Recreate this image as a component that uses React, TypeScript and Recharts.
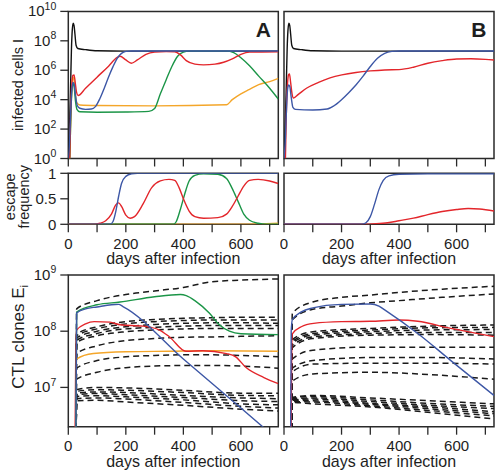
import React from 'react';
import { LineChart, Line, XAxis, YAxis, ReferenceArea } from 'recharts';

type Pt = [number, number];

// ---------------- shared ----------------
const DAY_TICKS = [0, 100, 200, 300, 400, 500, 600, 700];
const DAY_LABELS = [0, 200, 400, 600];
const INFECTED_TICKS = [1, 1e2, 1e4, 1e6, 1e8, 1e10];
const ESCAPE_TICKS = [0, 0.5, 1];
const CTL_TICKS = [1e7, 1e8, 1e9];

// ---------------- infected cells I ----------------
const infectedBlack: Pt[] = [[0, 1], [4, 1e2], [8, 1e5], [11, 3e7], [14, 6e8], [17, 1.6e9], [20, 1.1e9], [23, 3e8], [27, 5e7], [33, 3e7], [60, 2.5e7], [100, 2.1e7], [200, 2e7], [730, 2e7]];
const infectedA_orange: Pt[] = [[5, 1], [9, 1e3], [13, 1e5], [16, 3.5e5], [20, 2e5], [25, 2e4], [30, 6e3], [40, 4.3e3], [100, 4e3], [300, 3.8e3], [550, 4.5e3], [570, 1e4], [600, 2.5e4], [630, 5e4], [662, 1.05e5], [700, 1.7e5], [730, 2.8e5]];
const infectedA_green: Pt[] = [[5, 1], [9, 1e3], [13, 6e4], [16, 1.2e5], [20, 8e4], [25, 8e3], [30, 2.2e3], [40, 1.5e3], [100, 1.4e3], [200, 1.45e3], [280, 1.6e3], [300, 2.5e3], [320, 2.5e4], [340, 2.2e5], [360, 1.8e6], [380, 9e6], [400, 1.7e7], [420, 2e7], [550, 2e7], [575, 1.6e7], [600, 7e6], [630, 2e6], [662, 4e5], [700, 6e4], [730, 1.1e4]];
const infectedA_red: Pt[] = [[5, 1], [8, 1e3], [12, 1e5], [16, 4.5e5], [20, 4.8e5], [24, 1.5e5], [29, 3e4], [34, 1.9e4], [60, 6e4], [100, 3.4e5], [140, 1.9e6], [170, 7.5e6], [180, 9e6], [200, 5e6], [219, 3e6], [240, 5e6], [270, 1.2e7], [300, 1.7e7], [340, 1.85e7], [370, 1.8e7], [390, 1.1e7], [410, 4.5e6], [440, 2.6e6], [470, 2.3e6], [510, 2.6e6], [540, 3.5e6], [570, 6e6], [600, 1.2e7], [630, 1.7e7], [730, 1.8e7]];
const infectedA_blue: Pt[] = [[0, 1], [4, 10], [8, 1e3], [12, 4e4], [16, 1.5e5], [20, 1.2e5], [25, 2e4], [31, 4e3], [40, 2.6e3], [60, 2.2e3], [80, 2.3e3], [95, 3.5e3], [110, 1.2e4], [125, 6e4], [140, 3.5e5], [155, 1.7e6], [170, 6.5e6], [185, 1.4e7], [200, 1.9e7], [220, 2.05e7], [730, 2.05e7]];
const infectedB_red: Pt[] = [[5, 1], [8, 1e3], [12, 1e5], [16, 5e5], [19, 5.6e5], [23, 1.5e5], [28, 2.5e4], [33, 1.3e4], [50, 2.3e4], [78, 6e4], [120, 1.5e5], [160, 3e5], [201, 4.8e5], [250, 7e5], [300, 9e5], [350, 1.05e6], [400, 1.1e6], [450, 1.6e6], [500, 3e6], [550, 4.5e6], [600, 5.8e6], [650, 6e6], [700, 5.5e6], [730, 5e6]];
const infectedB_blue: Pt[] = [[0, 1], [4, 10], [8, 1e3], [12, 4e4], [16, 1e5], [20, 8e4], [25, 1.5e4], [31, 3e3], [40, 2.2e3], [100, 2e3], [150, 2.3e3], [175, 4e3], [200, 1e4], [225, 3e4], [250, 1e5], [275, 4e5], [300, 1.8e6], [325, 6.5e6], [350, 1.4e7], [375, 1.9e7], [400, 2.05e7], [730, 2.05e7]];

// ---------------- escape frequency ----------------
const escapeA_red: Pt[] = [[0, 0], [90, 0], [110, 0.02], [130, 0.07], [150, 0.2], [165, 0.38], [175, 0.42], [185, 0.35], [200, 0.18], [215, 0.12], [230, 0.15], [260, 0.4], [290, 0.72], [320, 0.85], [350, 0.88], [370, 0.86], [385, 0.72], [400, 0.5], [420, 0.26], [440, 0.15], [470, 0.12], [520, 0.13], [550, 0.2], [570, 0.35], [590, 0.55], [610, 0.75], [630, 0.86], [660, 0.88], [700, 0.85], [730, 0.8]];
const escapeA_blue: Pt[] = [[0, 0], [145, 0], [155, 0.05], [165, 0.25], [175, 0.55], [185, 0.8], [200, 0.94], [220, 0.99], [240, 1], [730, 1]];
const escapeA_green: Pt[] = [[0, 0], [365, 0], [375, 0.05], [390, 0.3], [405, 0.6], [420, 0.85], [440, 0.96], [470, 0.99], [520, 0.98], [550, 0.9], [570, 0.7], [590, 0.45], [610, 0.2], [630, 0.08], [660, 0.02], [690, 0], [730, 0]];
const escapeA_orange: Pt[] = [[0, 0], [600, 0], [730, 0.02]];
const escapeB_red: Pt[] = [[0, 0], [280, 0], [320, 0.01], [360, 0.03], [400, 0.07], [450, 0.12], [500, 0.19], [550, 0.25], [600, 0.29], [640, 0.31], [680, 0.3], [730, 0.26]];
const escapeB_blue: Pt[] = [[0, 0], [270, 0], [285, 0.03], [300, 0.15], [315, 0.4], [330, 0.68], [345, 0.86], [365, 0.95], [400, 0.98], [500, 0.99], [730, 0.99]];

// ---------------- CTL clones E_i ----------------
const ctlA_green: Pt[] = [[25, 1e5], [29, 2.2e8], [100, 2.95e8], [180, 3.3e8], [300, 4.1e8], [390, 4.5e8], [410, 4.3e8], [440, 3.5e8], [490, 2.1e8], [525, 1.3e8], [560, 1.0e8], [600, 9e7], [730, 8.7e7]];
const ctlA_blue: Pt[] = [[25, 1e5], [29, 2.1e8], [60, 2.5e8], [100, 2.7e8], [150, 2.95e8], [175, 3e8], [190, 2.75e8], [400, 3.2e7], [600, 4.3e6], [730, 1.15e6]];
const ctlA_red: Pt[] = [[22, 1e5], [26, 5e7], [29, 1.05e8], [60, 1.35e8], [90, 1.48e8], [145, 1.45e8], [180, 1.3e8], [260, 1.23e8], [317, 1.05e8], [352, 7.9e7], [409, 4.4e7], [467, 4.5e7], [550, 4e7], [582, 3.5e7], [616, 2.3e7], [680, 1.5e7], [730, 1.17e7]];
const ctlA_orange: Pt[] = [[23, 1e5], [27, 2e7], [29, 3.2e7], [87, 4e7], [200, 4.3e7], [350, 4.4e7], [500, 4.5e7], [730, 4.4e7]];

const cloneDaysA = [26, 29, 100, 200, 300, 400, 500, 600, 730];
const clonesA_upper: number[][] = [
  [1e5, 2.5e8, 3.5e8, 4.5e8, 5.2e8, 6.0e8, 7.6e8, 8.1e8, 8.5e8],
  [1e5, 8.9e7, 1.2e8, 1.48e8, 1.62e8, 1.7e8, 1.74e8, 1.78e8, 1.78e8],
  [1e5, 8.3e7, 1.1e8, 1.35e8, 1.48e8, 1.55e8, 1.58e8, 1.58e8, 1.58e8],
  [1e5, 7.6e7, 1.0e8, 1.2e8, 1.32e8, 1.38e8, 1.41e8, 1.41e8, 1.38e8],
  [1e5, 6.9e7, 9.1e7, 1.1e8, 1.17e8, 1.23e8, 1.26e8, 1.26e8, 1.26e8],
  [1e5, 6.3e7, 8.3e7, 9.8e7, 1.05e8, 1.1e8, 1.12e8, 1.12e8, 1.12e8],
  [1e5, 4.0e7, 5.5e7, 6.8e7, 7.4e7, 7.8e7, 7.9e7, 8.1e7, 8.3e7],
  [1e5, 2.2e7, 3.0e7, 3.5e7, 3.7e7, 3.8e7, 3.8e7, 3.7e7, 3.5e7],
  [1e5, 1.4e7, 1.86e7, 2.24e7, 2.4e7, 2.45e7, 2.45e7, 2.4e7, 2.2e7],
];
const cloneDaysA_low = [26, 29, 100, 200, 400, 600, 730];
const clonesA_lower: number[][] = [
  [1e5, 9.1e6, 1.0e7, 9.8e6, 8.9e6, 7.9e6, 7.9e6],
  [1e5, 8.5e6, 9.1e6, 8.9e6, 8.1e6, 7.2e6, 7.1e6],
  [1e5, 7.9e6, 8.3e6, 8.1e6, 7.2e6, 6.5e6, 6.3e6],
  [1e5, 7.4e6, 7.8e6, 7.4e6, 6.6e6, 5.8e6, 5.6e6],
  [1e5, 6.9e6, 7.1e6, 6.8e6, 6.0e6, 5.1e6, 4.9e6],
  [1e5, 6.3e6, 6.5e6, 6.2e6, 5.4e6, 4.6e6, 4.3e6],
  [1e5, 5.8e6, 5.9e6, 5.5e6, 4.8e6, 4.1e6, 3.8e6],
];

const ctlB_blue: Pt[] = [[22, 1e5], [25, 1e8], [29, 1.6e8], [60, 2.2e8], [100, 2.6e8], [200, 3e8], [300, 3.05e8], [330, 2.8e8], [350, 2.4e8], [465, 9.1e7], [580, 3e7], [730, 7.2e6]];
const ctlB_red: Pt[] = [[23, 1e5], [27, 6e7], [29, 9e7], [60, 1.2e8], [103, 1.38e8], [200, 1.48e8], [300, 1.5e8], [400, 1.58e8], [465, 1.5e8], [580, 1.12e8], [730, 8e7]];

const cloneDaysB = [24, 29, 100, 200, 300, 400, 550, 730];
const clonesB_top: number[][] = [
  [1e5, 2.1e8, 3.3e8, 4.0e8, 4.4e8, 4.9e8, 5.6e8, 6.3e8],
  [1e5, 1.6e8, 2.45e8, 2.8e8, 3.2e8, 3.5e8, 4.0e8, 4.6e8],
];
const cloneDaysB_mid = [24, 29, 100, 300, 500, 730];
const clonesB_mid: number[][] = [
  [1e5, 7.1e7, 9.8e7, 1.12e8, 1.23e8, 1.29e8],
  [1e5, 6.6e7, 9.1e7, 1.05e8, 1.15e8, 1.17e8],
  [1e5, 6.2e7, 8.5e7, 9.8e7, 1.05e8, 1.07e8],
  [1e5, 5.6e7, 7.9e7, 9.1e7, 9.5e7, 9.5e7],
  [1e5, 5.1e7, 7.4e7, 8.5e7, 8.7e7, 8.5e7],
  [1e5, 3.2e7, 4.6e7, 5.2e7, 5.2e7, 5.2e7],
  [1e5, 2.2e7, 3.0e7, 3.4e7, 3.4e7, 3.2e7],
  [1e5, 1.9e7, 2.6e7, 2.7e7, 2.7e7, 2.6e7],
  [1e5, 1.3e7, 1.74e7, 1.86e7, 1.7e7, 1.4e7],
  [1e5, 6.6e6, 7.2e6, 6.5e6, 5.8e6, 5.1e6],
  [1e5, 6.5e6, 6.9e6, 6.0e6, 5.2e6, 4.6e6],
  [1e5, 6.3e6, 6.5e6, 5.6e6, 4.8e6, 4.2e6],
  [1e5, 6.0e6, 6.2e6, 5.2e6, 4.5e6, 3.7e6],
  [1e5, 5.9e6, 5.8e6, 5.0e6, 4.2e6, 3.4e6],
  [1e5, 5.6e6, 5.5e6, 4.7e6, 3.9e6, 3.1e6],
  [1e5, 5.4e6, 5.1e6, 4.5e6, 3.6e6, 2.75e6],
];

// ---------------- styling ----------------
const FONT = '"Liberation Sans", Arial, Helvetica, sans-serif';
const AX = '#2a2a2a';
const TXT = '#1e1e1e';
const COL = { black: '#111111', red: '#e3262b', blue: '#3d57a6', green: '#1b9547', orange: '#f4a62a', dash: '#1a1a1a' };

type Series = { pts: Pt[]; color: string; dashed?: boolean };

const zipPts = (days: number[], vals: number[]): Pt[] => days.map((d, i) => [d, vals[i]] as Pt);
const dashed = (days: number[], sets: number[][]): Series[] => sets.map((v) => ({ pts: zipPts(days, v), color: COL.dash, dashed: true }));

const PowTick = (props: any) => {
  const { x, y, payload } = props;
  const e = Math.round(Math.log10(payload.value));
  return (
    <text x={x} y={y} dy={5} textAnchor="end" fontSize={15} fill={TXT} fontFamily={FONT}>
      10<tspan dy={-6.5} fontSize={10.5}>{e}</tspan>
    </text>
  );
};

const xTitle = (props: any) => {
  const vb = props.viewBox;
  return (
    <text x={vb.x + vb.width / 2} y={vb.y + 40} textAnchor="middle" fontSize={16} fill={TXT} fontFamily={FONT}>
      days after infection
    </text>
  );
};

const vText = (x: number, cy: number, size: number, content: React.ReactNode, key?: string) => (
  <text key={key} transform={`translate(${x},${cy}) rotate(-90)`} textAnchor="middle" fontSize={size} fill={TXT} fontFamily={FONT}>
    {content}
  </text>
);

const infectedTitle = (props: any) => {
  const vb = props.viewBox;
  return vText(vb.x + 23, vb.y + vb.height / 2, 14.5, 'infected cells I');
};
const escapeTitle = (props: any) => {
  const vb = props.viewBox;
  const cy = vb.y + vb.height / 2 - 2;
  return (
    <g>
      {vText(vb.x + 15, cy, 14.5, 'escape', 'a')}
      {vText(vb.x + 29, cy, 14.5, 'frequency', 'b')}
    </g>
  );
};
const ctlTitle = (props: any) => {
  const vb = props.viewBox;
  return vText(vb.x + 24, vb.y + vb.height / 2 - 14, 17, (
    <>
      CTL clones E<tspan dy={4} fontSize={11}>i</tspan>
    </>
  ));
};

const letter = (ch: string) => (props: any) => {
  const vb = props.viewBox;
  return (
    <text x={vb.x + vb.width - 7.5} y={vb.y + 26} textAnchor="end" fontSize={21} fontWeight="bold" fill={TXT} fontFamily={FONT}>
      {ch}
    </text>
  );
};

type PanelProps = {
  left: number; top: number; width: number; height: number;
  margin: { top: number; right: number; bottom: number; left: number };
  xAxisH: number; yAxisW: number; showY: boolean; xLabels: boolean; xTitle: boolean;
  log: boolean; yDomain: [number, number]; yTicks: number[];
  yTitle?: (p: any) => React.ReactElement; letter?: string; series: Series[];
};

function Panel(p: PanelProps) {
  const tickLine = { stroke: AX, strokeWidth: 1.3 };
  return (
    <div style={{ position: 'absolute', left: p.left, top: p.top }}>
      <LineChart width={p.width} height={p.height} margin={p.margin}>
        <XAxis
          type="number" dataKey="x" domain={[0, 730]} ticks={DAY_TICKS} interval={0} allowDataOverflow
          axisLine={false} tickSize={8} tickMargin={6} tickLine={tickLine} height={p.xAxisH}
          tick={{ fontSize: 15, fill: TXT, fontFamily: FONT }}
          tickFormatter={(v: number) => (p.xLabels && DAY_LABELS.includes(v) ? String(v) : '')}
          label={p.xTitle ? xTitle : undefined}
        />
        <YAxis
          type="number" dataKey="y" scale={p.log ? 'log' : 'linear'} domain={p.yDomain} ticks={p.yTicks} interval={0}
          allowDataOverflow hide={!p.showY} width={p.yAxisW} axisLine={false} tickSize={8} tickMargin={4}
          tickLine={tickLine}
          tick={p.log ? PowTick : { fontSize: 15, fill: TXT, fontFamily: FONT }}
          label={p.yTitle}
        />
        <ReferenceArea
          x1={0} x2={730} y1={p.yDomain[0]} y2={p.yDomain[1]} fill="none" fillOpacity={0}
          stroke={AX} strokeWidth={1.5} ifOverflow="visible"
          label={p.letter ? letter(p.letter) : undefined}
        />
        {p.series.map((s, i) => (
          <Line
            key={i} data={s.pts.map(([x, y]) => ({ x, y }))} dataKey="y" type="monotone"
            stroke={s.color} strokeWidth={s.dashed ? 1.5 : 1.4} strokeDasharray={s.dashed ? '6 4' : undefined}
            dot={false} activeDot={false} isAnimationActive={false}
          />
        ))}
      </LineChart>
    </div>
  );
}

const colA = { left: 0, width: 282, mL: 0, mR: 3.7, yW: 68.3, showY: true };
const colB = { left: 280, width: 218, mL: 4, mR: 4, yW: 0, showY: false };
const rowTop = { top: 0, mT: 11.4, plotH: 147.1, xH: 19.5 };
const rowEsc = { top: 162, mT: 11.3, plotH: 51, xH: 45 };
const rowBot = { top: 256, mT: 19, plotH: 151.7, xH: 45 };

const geom = (c: typeof colA, r: typeof rowTop) => ({
  left: c.left, top: r.top, width: c.width, height: r.mT + r.plotH + r.xH,
  margin: { top: r.mT, right: c.mR, bottom: 0, left: c.mL },
  xAxisH: r.xH, yAxisW: c.yW || 1, showY: c.showY,
});

export default function App() {
  return (
    <div style={{ position: 'absolute', left: 0, top: 0, width: 498, height: 474, background: '#fff' }}>
      <Panel {...geom(colA, rowTop)} xLabels={false} xTitle={false} log yDomain={[1, 1e10]} yTicks={INFECTED_TICKS}
        yTitle={infectedTitle} letter="A"
        series={[
          { pts: infectedBlack, color: COL.black },
          { pts: infectedA_orange, color: COL.orange },
          { pts: infectedA_green, color: COL.green },
          { pts: infectedA_red, color: COL.red },
          { pts: infectedA_blue, color: COL.blue },
        ]} />
      <Panel {...geom(colB, rowTop)} xLabels={false} xTitle={false} log yDomain={[1, 1e10]} yTicks={INFECTED_TICKS}
        letter="B"
        series={[
          { pts: infectedBlack, color: COL.black },
          { pts: infectedB_red, color: COL.red },
          { pts: infectedB_blue, color: COL.blue },
        ]} />
      <Panel {...geom(colA, rowEsc)} xLabels xTitle log={false} yDomain={[0, 1]} yTicks={ESCAPE_TICKS}
        yTitle={escapeTitle}
        series={[
          { pts: escapeA_orange, color: COL.orange },
          { pts: escapeA_green, color: COL.green },
          { pts: escapeA_red, color: COL.red },
          { pts: escapeA_blue, color: COL.blue },
        ]} />
      <Panel {...geom(colB, rowEsc)} xLabels xTitle log={false} yDomain={[0, 1]} yTicks={ESCAPE_TICKS}
        series={[
          { pts: escapeB_red, color: COL.red },
          { pts: escapeB_blue, color: COL.blue },
        ]} />
      <Panel {...geom(colA, rowBot)} xLabels xTitle log yDomain={[2e6, 1e9]} yTicks={CTL_TICKS}
        yTitle={ctlTitle}
        series={[
          ...dashed(cloneDaysA, clonesA_upper),
          ...dashed(cloneDaysA_low, clonesA_lower),
          { pts: ctlA_orange, color: COL.orange },
          { pts: ctlA_red, color: COL.red },
          { pts: ctlA_green, color: COL.green },
          { pts: ctlA_blue, color: COL.blue },
        ]} />
      <Panel {...geom(colB, rowBot)} xLabels xTitle log yDomain={[2e6, 1e9]} yTicks={CTL_TICKS}
        series={[
          ...dashed(cloneDaysB, clonesB_top),
          ...dashed(cloneDaysB_mid, clonesB_mid),
          { pts: ctlB_red, color: COL.red },
          { pts: ctlB_blue, color: COL.blue },
        ]} />
    </div>
  );
}
